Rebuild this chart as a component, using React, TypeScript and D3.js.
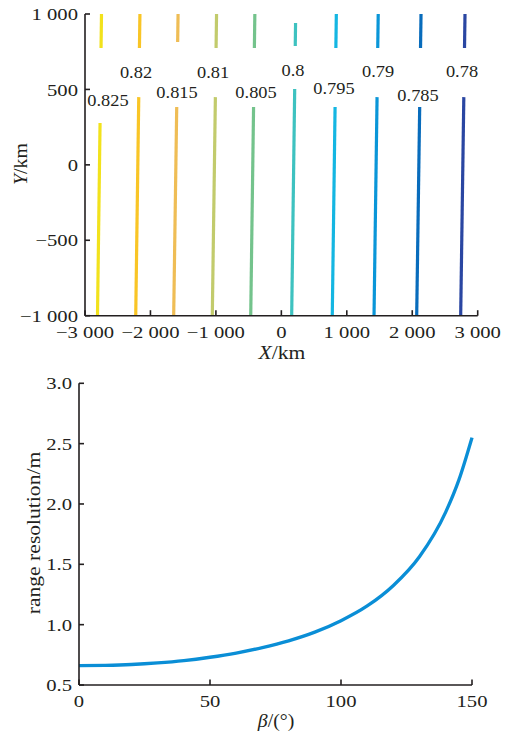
import React from "react";
import * as d3 from "d3";

// ---- Top chart: contour lines ----
const levels = ["0.825", "0.82", "0.815", "0.81", "0.805", "0.8", "0.795", "0.79", "0.785", "0.78"];
const levelColors = ["#f2e21c", "#f9c526", "#efbd55", "#c2cb6c", "#74c38c", "#3ec2c0", "#14b6e2", "#0a96d8", "#086cbc", "#2a46a2"];
const xAtBottom = [-2809, -2225, -1645, -1055, -468, 158, 778, 1416, 2068, 2740];
const xAtTop = [-2748, -2161, -1578, -990, -405, 219, 840, 1480, 2134, 2806];
const lowerEnd = [277, 449, 383, 449, 383, 503, 383, 449, 383, 449];
const upperStart = [774, 774, 814, 774, 774, 788, 774, 774, 774, 774];
const upperEnd = [1000, 1000, 1000, 1000, 1000, 940, 1000, 1000, 1000, 1000];
const labelX = [-2649, -2221, -1594, -1044, -387, 178, 804, 1477, 2088, 2760];
const labelY = [430, 615, 483, 615, 483, 629, 509, 622, 463, 622];
const topXTicks = [-3000, -2000, -1000, 0, 1000, 2000, 3000];
const topYTicks = [-1000, -500, 0, 500, 1000];

// ---- Bottom chart: range resolution ----
const betaDeg = [0, 10, 20, 30, 40, 50, 60, 70, 80, 90, 100, 110, 120, 130, 140, 145, 150];
const rangeRes = [0.66, 0.663, 0.67, 0.683, 0.702, 0.73, 0.765, 0.81, 0.866, 0.938, 1.033, 1.155, 1.325, 1.565, 1.935, 2.2, 2.55];
const botXTicks = [0, 50, 100, 150];
const botYTicks = [0.5, 1.0, 1.5, 2.0, 2.5, 3.0];

const FONT = "'Liberation Serif', 'Times New Roman', serif";
const AXIS = "#231f20";
const loc = d3.formatLocale({ decimal: ".", thousands: " ", grouping: [3], currency: ["", ""], minus: "\u2212" });
const fmtInt = loc.format(",d");
const fmt1 = loc.format(".1f");

function SText({ x, y, children, anchor = "middle", size = 17.5, sx = 1.18, rotate = 0 }: any) {
  return (
    <g transform={`translate(${x},${y}) rotate(${rotate}) scale(${sx},1)`}>
      <text textAnchor={anchor} dy="0.35em" fontSize={size} fontFamily={FONT} fill="#231f20">
        {children}
      </text>
    </g>
  );
}

export default function App() {
  const tx = d3.scaleLinear().domain([-3000, 3000]).range([85, 477.7]);
  const ty = d3.scaleLinear().domain([-1000, 1000]).range([315.7, 14]);
  const bx = d3.scaleLinear().domain([0, 150]).range([79, 472]);
  const by = d3.scaleLinear().domain([0.5, 3]).range([685, 383.3]);

  const seg = d3.line<[number, number]>().x((d) => tx(d[0])).y((d) => ty(d[1]));
  const xOn = (i: number, yv: number) => xAtBottom[i] + ((xAtTop[i] - xAtBottom[i]) * (yv + 1000)) / 2000;

  const curve = d3
    .line<number>()
    .x((_, i) => bx(betaDeg[i]))
    .y((d) => by(d))
    .curve(d3.curveMonotoneX);

  return (
    <svg width={510} height={733} style={{ position: "absolute", left: 0, top: 0, background: "#fff" }}>
      {/* ---------- TOP CHART ---------- */}
      {levels.map((lv, i) => {
        const lower: [number, number][] = [
          [xOn(i, -1000), -1000],
          [xOn(i, lowerEnd[i]), lowerEnd[i]],
        ];
        const upper: [number, number][] = [
          [xOn(i, upperStart[i]), upperStart[i]],
          [xOn(i, upperEnd[i]), upperEnd[i]],
        ];
        return (
          <g key={lv}>
            <path d={seg(lower) || ""} stroke={levelColors[i]} strokeWidth={3.2} fill="none" />
            <path d={seg(upper) || ""} stroke={levelColors[i]} strokeWidth={3.2} fill="none" />
          </g>
        );
      })}
      {levels.map((lv, i) => (
        <SText key={"l" + lv} x={tx(labelX[i])} y={ty(labelY[i])} size={17.5} sx={1.05}>
          {lv}
        </SText>
      ))}
      <line x1={tx(-3000)} x2={tx(-3000)} y1={ty(1000)} y2={ty(-1000)} stroke={AXIS} strokeWidth={1.6} />
      <line x1={tx(-3000)} x2={tx(3000)} y1={ty(-1000)} y2={ty(-1000)} stroke={AXIS} strokeWidth={1.6} />
      {topYTicks.map((t) => (
        <g key={"ty" + t}>
          <line x1={tx(-3000)} x2={tx(-3000) + 5} y1={ty(t)} y2={ty(t)} stroke={AXIS} strokeWidth={1.6} />
          <SText x={78} y={ty(t)} anchor="end">
            {fmtInt(t)}
          </SText>
        </g>
      ))}
      {topXTicks.map((t) => (
        <g key={"tx" + t}>
          <line x1={tx(t)} x2={tx(t)} y1={ty(-1000)} y2={ty(-1000) - 5.5} stroke={AXIS} strokeWidth={1.6} />
          <SText x={tx(t)} y={332}>
            {fmtInt(t)}
          </SText>
        </g>
      ))}
      <SText x={282} y={353} size={18} sx={1.2}>
        <tspan fontStyle="italic">X</tspan>/km
      </SText>
      <SText x={21} y={164} size={18} sx={1.1} rotate={-90}>
        <tspan fontStyle="italic">Y</tspan>/km
      </SText>

      {/* ---------- BOTTOM CHART ---------- */}
      <path d={curve(rangeRes) || ""} stroke="#0a8ed6" strokeWidth={3.3} fill="none" />
      <line x1={bx(0)} x2={bx(0)} y1={by(3)} y2={by(0.5)} stroke={AXIS} strokeWidth={1.6} />
      <line x1={bx(0)} x2={bx(150)} y1={by(0.5)} y2={by(0.5)} stroke={AXIS} strokeWidth={1.6} />
      {botYTicks.map((t) => (
        <g key={"by" + t}>
          <line x1={bx(0)} x2={bx(0) + 5} y1={by(t)} y2={by(t)} stroke={AXIS} strokeWidth={1.6} />
          <SText x={72} y={by(t)} anchor="end">
            {fmt1(t)}
          </SText>
        </g>
      ))}
      {botXTicks.map((t) => (
        <g key={"bx" + t}>
          <line x1={bx(t)} x2={bx(t)} y1={by(0.5)} y2={by(0.5) - 5.5} stroke={AXIS} strokeWidth={1.6} />
          <SText x={bx(t)} y={701}>
            {fmtInt(t)}
          </SText>
        </g>
      ))}
      <SText x={276} y={721} size={18} sx={1.1}>
        <tspan fontStyle="italic">β</tspan>/(°)
      </SText>
      <SText x={34} y={533} size={18} sx={1.2} rotate={-90}>
        range resolution/m
      </SText>
    </svg>
  );
}
